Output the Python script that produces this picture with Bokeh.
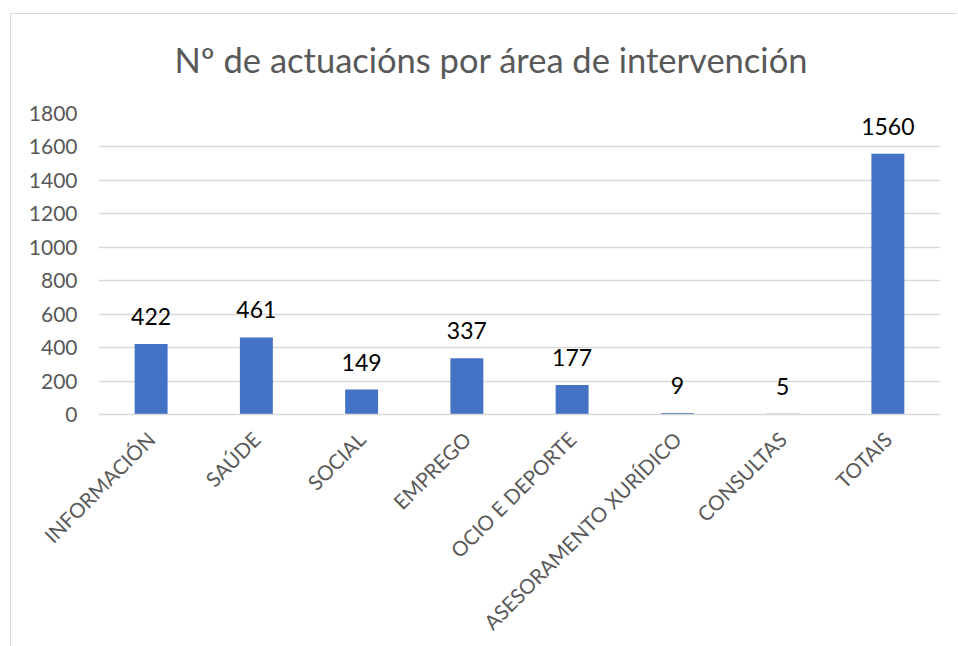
from bokeh.plotting import figure
from bokeh.models import FactorRange, Range1d, FixedTicker, ColumnDataSource
from bokeh.core.properties import value
from bokeh.embed import file_html
from bokeh.resources import INLINE
import math

title_text = "Nº de actuacións por área de intervención"
categories = ["INFORMACIÓN", "SAÚDE", "SOCIAL", "EMPREGO", "OCIO E DEPORTE",
              "ASESORAMENTO XURÍDICO", "CONSULTAS", "TOTAIS"]
values = [422, 461, 149, 337, 177, 9, 5, 1560]
y_ticks = [0, 200, 400, 600, 800, 1000, 1200, 1400, 1600, 1800]

FONT = "Lato"
GREY = "#595959"
EDGE = "#d9d9d9"

src = ColumnDataSource(dict(cat=categories, val=values, lab=[str(v) for v in values]))

p = figure(x_range=FactorRange(factors=categories, range_padding=0),
           y_range=Range1d(0, 1800),
           width=947, height=641, output_backend="svg", toolbar_location=None,
           min_border_left=88, min_border_right=17, min_border_top=108, min_border_bottom=232)
p.margin = (5, 0, 0, 10)
p.border_fill_color = None
p.background_fill_color = "#ffffff"
p.styles = {
    "background": (f"linear-gradient({EDGE}, {EDGE}) 0px 8px / 100% 1px no-repeat, "
                   f"linear-gradient({EDGE}, {EDGE}) 0px 8px / 1px 100% no-repeat, #ffffff"),
    "border": "none",
    "outline": "none",
    "box-shadow": "none",
}

p.vbar(x="cat", top="val", width=0.313, source=src, color="#4472C4", line_color=None)
p.text(x="cat", y="val", text="lab", source=src, text_align="center",
       text_baseline="bottom", y_offset=-19, text_font=value(FONT),
       text_font_size="23px", text_color="#000000")

p.title.text = title_text
p.title.text_font = FONT
p.title.text_font_size = "34.5px"
p.title.text_font_style = "normal"
p.title.text_color = GREY
p.title.align = "left"
p.title.vertical_align = "middle"
p.title.offset = 76
p.title.standoff = 65

p.outline_line_color = None
p.xgrid.grid_line_color = None
p.ygrid.grid_line_color = EDGE
p.ygrid.grid_line_width = 1.3

p.yaxis.ticker = FixedTicker(ticks=y_ticks)
p.yaxis.axis_line_color = None
p.yaxis.major_tick_line_color = None
p.yaxis.minor_tick_line_color = None
p.yaxis.major_label_text_font = FONT
p.yaxis.major_label_text_font_size = "21px"
p.yaxis.major_label_text_color = GREY
p.yaxis.major_label_standoff = 15

p.xaxis.axis_line_color = EDGE
p.xaxis.axis_line_width = 1.3
p.xaxis.major_tick_line_color = None
p.xaxis.minor_tick_line_color = None
p.xaxis.major_label_orientation = math.pi / 4
p.xaxis.major_label_text_font = FONT
p.xaxis.major_label_text_font_size = "20.5px"
p.xaxis.major_label_text_color = GREY
p.xaxis.major_label_standoff = 15

open("out.html", "w").write(file_html(p, INLINE))
